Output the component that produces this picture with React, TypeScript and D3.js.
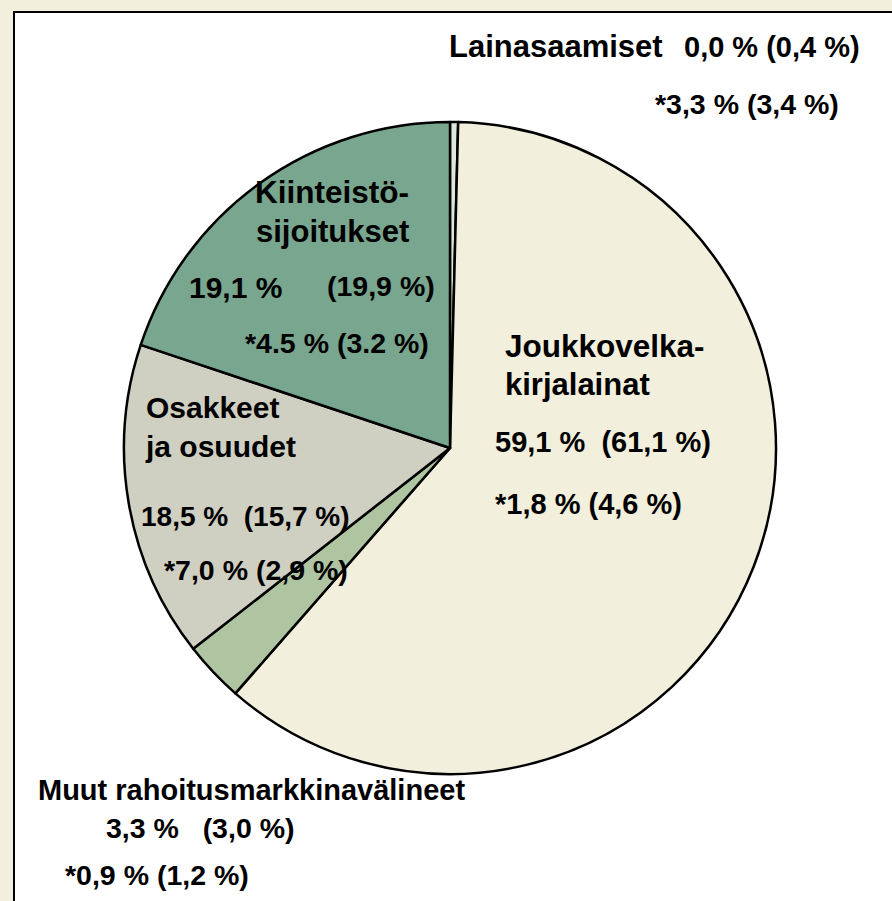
import { useRef, useEffect } from 'react'
import * as d3 from 'd3'

// pie is drawn from the previous-year shares (the values in brackets)
const categories = ['Lainasaamiset', 'Joukkovelkakirjalainat', 'Muut rahoitusmarkkinavälineet', 'Osakkeet ja osuudet', 'Kiinteistösijoitukset']
const prevShare = [0.4, 61.1, 3.0, 15.7, 19.9]
const shareText = ['0,0 %', '59,1 %', '3,3 %', '18,5 %', '19,1 %']
const prevShareText = ['(0,4 %)', '(61,1 %)', '(3,0 %)', '(15,7 %)', '(19,9 %)']
const returnText = ['*3,3 % (3,4 %)', '*1,8 % (4,6 %)', '*0,9 % (1,2 %)', '*7,0 % (2,9 %)', '*4.5 % (3.2 %)']
const colors = ['#dbe8dc', '#f2efdc', '#afc4a0', '#cfcfc2', '#79a68e']

interface Slice {
  name: string
  value: number
  color: string
}

const App = () => {
  const svgRef = useRef<SVGSVGElement | null>(null)

  useEffect(() => {
    const svg = d3.select(svgRef.current)
    svg.selectAll('*').remove()

    const width = 892
    const height = 901
    const cx = 450
    const cy = 448
    const radius = 326

    svg.append('rect').attr('width', width).attr('height', height).attr('fill', '#f2efdc')
    svg
      .append('rect')
      .attr('x', 14)
      .attr('y', 12)
      .attr('width', width)
      .attr('height', height)
      .attr('fill', '#ffffff')
      .attr('stroke', '#000')
      .attr('stroke-width', 2)

    const slices: Slice[] = categories.map((name, i) => ({ name, value: prevShare[i], color: colors[i] }))

    const pie = d3
      .pie<Slice>()
      .sort(null)
      .value((d) => d.value)
    const arc = d3.arc<d3.PieArcDatum<Slice>>().innerRadius(0).outerRadius(radius)

    const g = svg.append('g').attr('transform', `translate(${cx},${cy})`)
    g.selectAll('path')
      .data(pie(slices))
      .join('path')
      .attr('d', arc)
      .attr('fill', (d) => d.data.color)
      .attr('stroke', '#000')
      .attr('stroke-width', 2.5)
      .attr('stroke-linejoin', 'round')

    const font = "'Liberation Sans', Arial, sans-serif"
    const addText = (x: number, y: number, t: string, size: number) =>
      svg
        .append('text')
        .attr('x', x)
        .attr('y', y)
        .attr('font-family', font)
        .attr('font-weight', 'bold')
        .attr('font-size', size)
        .attr('fill', '#000')
        .style('white-space', 'pre')
        .text(t)

    // Lainasaamiset (outside, top right)
    addText(449, 57, categories[0], 31)
    addText(684, 57, `${shareText[0]} ${prevShareText[0]}`, 29)
    addText(655, 114, returnText[0], 28.5)

    // Kiinteistösijoitukset
    addText(255, 203, 'Kiinteistö-', 31.5)
    addText(256, 242, 'sijoitukset', 31)
    addText(189, 298, shareText[4], 30)
    addText(327, 296, prevShareText[4], 28.5)
    addText(245, 353, returnText[4], 28.5)

    // Osakkeet ja osuudet
    addText(146, 418, 'Osakkeet', 30)
    addText(146, 457, 'ja osuudet', 30)
    addText(141, 526, `${shareText[3]}  ${prevShareText[3]}`, 28)
    addText(164, 580, returnText[3], 28.5)

    // Joukkovelkakirjalainat
    addText(505, 357, 'Joukkovelka-', 31.5)
    addText(505, 395, 'kirjalainat', 31)
    addText(495, 452, `${shareText[1]}  ${prevShareText[1]}`, 29)
    addText(495, 514, returnText[1], 29)

    // Muut rahoitusmarkkinavälineet (outside, bottom left)
    addText(38, 800, categories[2], 29)
    addText(106, 838, `${shareText[2]}   ${prevShareText[2]}`, 28.5)
    addText(65, 885, returnText[2], 28.5)
  }, [])

  return (
    <svg
      ref={svgRef}
      width={892}
      height={901}
      style={{ position: 'absolute', left: 0, top: 0, display: 'block' }}
    />
  )
}

export default App
